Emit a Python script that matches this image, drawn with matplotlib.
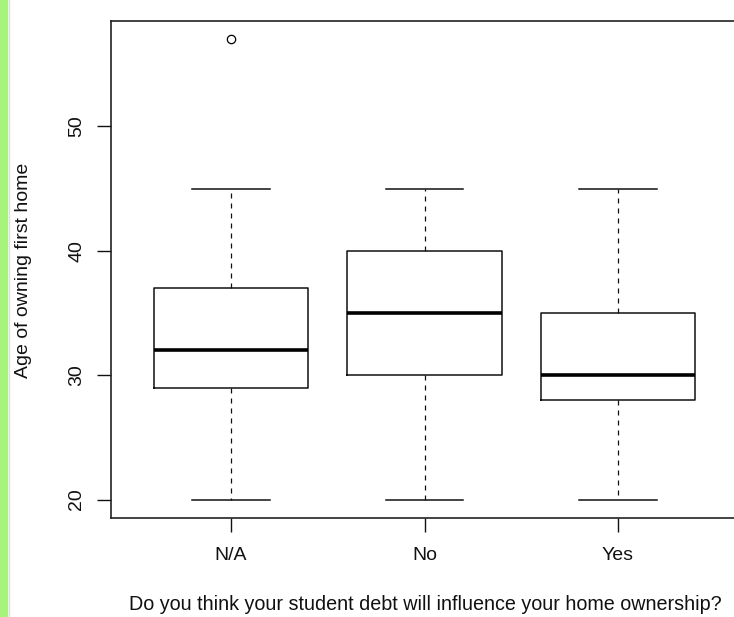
import matplotlib
matplotlib.use("Agg")
import matplotlib.pyplot as plt

# data (five-number summaries)
groups = ["N/A", "No", "Yes"]
whislo = [20, 20, 20]
q1 = [29, 30, 28]
med = [32, 35, 30]
q3 = [37, 40, 35]
whishi = [45, 45, 45]
fliers = [[57], [], []]

plt.rcParams['font.family'] = ['Liberation Sans', 'DejaVu Sans']

fig = plt.figure(figsize=(7.34, 6.17), dpi=100)
# green strip at the left edge of the screenshot
fig.patches.append(plt.Rectangle((0, 0), 7/734, 1, transform=fig.transFigure,
                                 color='#a6f47c', zorder=0))
fig.lines.append(plt.Line2D([8.5/734, 8.5/734], [0, 1], transform=fig.transFigure,
                            color='#dddddd', lw=1))

ax = fig.add_axes([111/734, 99/617, 627/734, 497/617])

stats = []
for i, g in enumerate(groups):
    stats.append(dict(label=g, whislo=whislo[i], q1=q1[i], med=med[i],
                      q3=q3[i], whishi=whishi[i], fliers=fliers[i]))

ax.bxp(stats, positions=[1, 2, 3], widths=0.8, showfliers=True,
       boxprops=dict(color='#111111', lw=1.1),
       medianprops=dict(color='black', lw=2.6, solid_capstyle='butt'),
       whiskerprops=dict(color='#111111', lw=0.9, linestyle=(0, (4, 4))),
       capprops=dict(color='#111111', lw=1.1),
       capwidths=0.4,
       flierprops=dict(marker='o', markerfacecolor='none', markeredgecolor='black',
                       markersize=6, markeredgewidth=0.9))

ax.set_xlim(0.38, 3.62)
ax.set_ylim(18.52, 58.48)
ax.set_yticks([20, 30, 40, 50])
ax.set_yticklabels(['20', '30', '40', '50'], rotation=90, va='center')
ax.set_xticks([1, 2, 3])
ax.set_xticklabels(groups)
ax.tick_params(axis='both', length=10, width=1, labelsize=14, colors='#111111')
ax.tick_params(axis='x', pad=11)
ax.tick_params(axis='y', pad=8.5)
for s in ax.spines.values():
    s.set_linewidth(1.2)
    s.set_color('#222222')

fig.text(24/734, 1 - 270/617, 'Age of owning first home', rotation=90,
         ha='center', va='center', fontsize=14, color='#111111')
fig.text(425/734, 1 - 605/617, 'Do you think your student debt will influence your home ownership?',
         ha='center', va='center', fontsize=14.2, color='#111111')

fig.savefig('out.png', dpi=100)
